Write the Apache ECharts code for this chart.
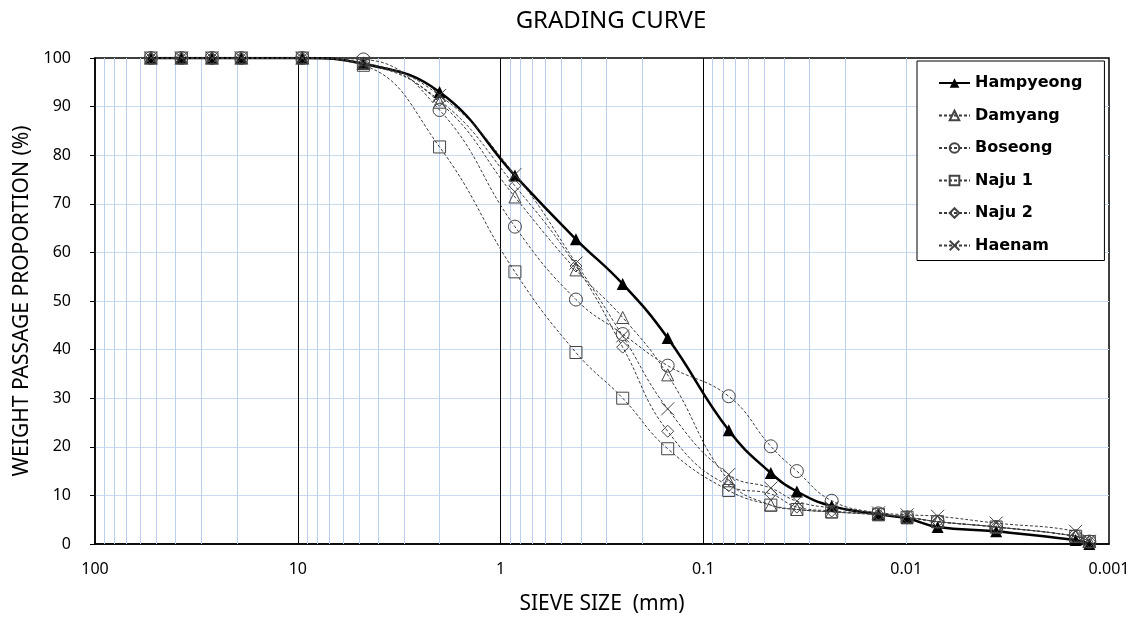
<!DOCTYPE html>
<html>
<head>
<meta charset="utf-8">
<script src="https://cdn.jsdelivr.net/npm/echarts@6/dist/echarts.min.js"></script>
<style>
html, body { margin: 0; padding: 0; background: #fff; }
#chart { width: 1138px; height: 623px; }
</style>
</head>
<body>
<div id="chart"></div>
<script>
// sieve / hydrometer sizes (mm)
var sieveSizes = [53, 37.5, 26.5, 19, 9.5, 4.75, 2.0, 0.85, 0.425, 0.25, 0.15, 0.075,
	0.0465, 0.0346, 0.0233, 0.0137, 0.0099, 0.0070, 0.0036, 0.00146, 0.00125];

// passing percentage per site
var hampyeong = [100, 100, 100, 100, 100, 98.8, 93.0, 75.8, 62.7, 53.5, 42.4, 23.4, 14.6, 10.8, 7.8, 6.1, 5.3, 3.5, 2.6, 0.8, 0];
var damyang   = [100, 100, 100, 100, 100, 99.0, 90.9, 71.4, 56.4, 46.6, 34.8, 13.0, 8.0, 7.1, 6.6, 6.0, 5.5, 4.6, 3.5, 1.6, 0.5];
var boseong   = [100, 100, 100, 100, 100, 99.7, 89.3, 65.3, 50.3, 43.2, 36.7, 30.4, 20.1, 15.0, 8.9, 6.3, 5.5, 4.6, 3.5, 1.6, 0.5];
var naju1     = [100, 100, 100, 100, 100, 98.5, 81.7, 56.0, 39.4, 30.0, 19.6, 11.0, 8.0, 7.1, 6.6, 6.1, 5.5, 4.6, 3.5, 1.6, 0.5];
var naju2     = [100, 100, 100, 100, 100, 98.8, 91.3, 73.7, 57.2, 40.5, 23.2, 12.0, 10.3, 7.6, 6.8, 6.1, 5.5, 4.6, 3.5, 1.6, 0.5];
var haenam    = [100, 100, 100, 100, 100, 99.0, 92.3, 76.0, 57.8, 42.8, 27.8, 14.3, 11.5, 8.8, 7.4, 6.4, 6.0, 5.7, 4.3, 2.6, 0.6];

var xTickLabels = ['0.001', '0.01', '0.1', '1', '10', '100'];

var chart = echarts.init(document.getElementById('chart'));

function pairs(values) {
	return sieveSizes.map(function (s, i) { return [s, values[i]]; });
}

// light blue minor grid lines at 2..9 x each decade
var minorLines = [];
[0.001, 0.01, 0.1, 1, 10].forEach(function (d) {
	for (var k = 2; k <= 9; k++) {
		minorLines.push({ xAxis: +(k * d).toPrecision(3) });
	}
});

var dashStyle = { color: '#3a3a3a', width: 1, type: [3, 2] };
var hollow = { color: 'rgba(0,0,0,0)', borderColor: '#444', borderWidth: 1 };

function siteSeries(name, values, symbol, size) {
	return {
		name: name,
		type: 'line',
		smooth: 0.45,
		data: pairs(values),
		symbol: symbol,
		symbolSize: size,
		lineStyle: dashStyle,
		itemStyle: hollow,
		z: 3
	};
}

var option = {
	backgroundColor: '#fff',
	animation: false,
	title: {
		text: 'GRADING CURVE',
		left: 606,
		top: 4,
		textAlign: 'center',
		textStyle: { fontFamily: 'Noto Sans', fontWeight: 'normal', fontSize: 24, color: '#000' }
	},
	legend: {
		orient: 'vertical',
		left: 917,
		top: 61,
		backgroundColor: '#fff',
		borderColor: '#000',
		borderWidth: 1,
		padding: [14, 22, 7, 21],
		itemGap: 16.5,
		itemWidth: 31,
		itemHeight: 12,
		textStyle: { fontFamily: 'DejaVu Sans', fontWeight: 'bold', fontSize: 16, color: '#000' },
		data: ['Hampyeong', 'Damyang', 'Boseong', 'Naju 1', 'Naju 2', 'Haenam']
	},
	grid: {
		left: 95, right: 29, top: 58, bottom: 79,
		show: true, borderColor: '#000', borderWidth: 1.5
	},
	xAxis: [{
		type: 'log',
		logBase: 10,
		min: 0.001,
		max: 100,
		inverse: true,
		name: 'SIEVE SIZE  (mm)',
		nameLocation: 'middle',
		nameGap: 50,
		nameTextStyle: { fontFamily: 'Noto Sans', fontSize: 21, color: '#000' },
		axisLine: { show: true, onZero: false, lineStyle: { color: '#000', width: 1.5 } },
		axisTick: { show: false },
		axisLabel: {
			color: '#000', fontFamily: 'Noto Sans', fontSize: 16, margin: 17,
			formatter: function (v) {
				var s = +(+v).toPrecision(3);
				var idx = xTickLabels.indexOf(String(s));
				return idx >= 0 ? xTickLabels[idx] : '';
			}
		},
		splitLine: { show: true, showMinLine: false, showMaxLine: false, lineStyle: { color: '#000', width: 1 } }
	}],
	yAxis: [{
		type: 'value',
		min: 0,
		max: 100,
		interval: 10,
		name: 'WEIGHT PASSAGE PROPORTION (%)',
		nameLocation: 'middle',
		nameGap: 60,
		nameTextStyle: { fontFamily: 'Noto Sans', fontSize: 21, color: '#000' },
		axisLine: { show: true, lineStyle: { color: '#000', width: 1.5 } },
		axisTick: { show: true, inside: false, length: 5, lineStyle: { color: '#000' } },
		axisLabel: { color: '#000', fontFamily: 'Noto Sans', fontSize: 16, margin: 24 },
		splitLine: { show: true, showMinLine: false, showMaxLine: false, lineStyle: { color: '#c9daf2', width: 1 } }
	}],
	series: [
		{
			name: 'minor-grid',
			type: 'line',
			data: [],
			silent: true,
			z: 1,
			markLine: {
				silent: true,
				symbol: 'none',
				z: 1,
				label: { show: false },
				lineStyle: { color: '#bcd0ee', type: 'solid', width: 1 },
				emphasis: { disabled: true },
				data: minorLines
			}
		},
		{
			name: 'Hampyeong',
			type: 'line',
			smooth: 0.45,
			data: pairs(hampyeong),
			symbol: 'triangle',
			symbolSize: 12,
			lineStyle: { color: '#000', width: 2.5 },
			itemStyle: { color: '#000' },
			z: 2
		},
		siteSeries('Damyang', damyang, 'triangle', 12),
		siteSeries('Boseong', boseong, 'circle', 13),
		siteSeries('Naju 1', naju1, 'rect', 12),
		siteSeries('Naju 2', naju2, 'diamond', 12),
		siteSeries('Haenam', haenam, 'path://M0,0L10,10M10,0L0,10', 13)
	]
};

chart.setOption(option);
</script>
</body>
</html>
